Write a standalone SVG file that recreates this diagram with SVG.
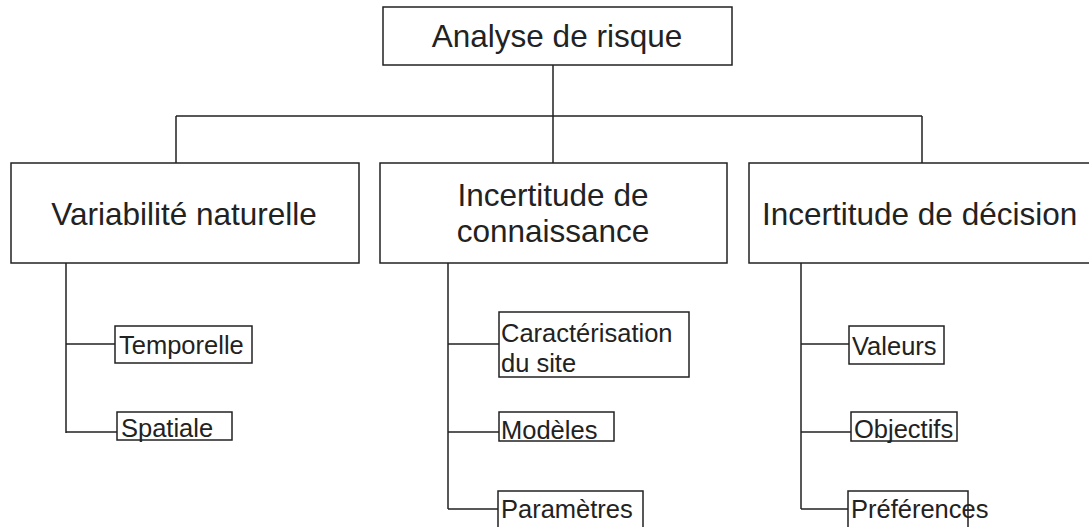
<svg xmlns="http://www.w3.org/2000/svg" width="1089" height="527" viewBox="0 0 1089 527">
<style>
.box{fill:#fff;stroke:#222;stroke-width:1.5}
.ln{fill:none;stroke:#222;stroke-width:1.5}
.big{font-family:"Liberation Sans",Arial,sans-serif;font-size:31.5px;fill:#222}
.sm{font-family:"Liberation Sans",Arial,sans-serif;font-size:25.5px;fill:#222}
</style>
<rect width="1089" height="527" fill="#fff"/>
<g id="connectors">
<path class="ln" d="M553 65V116M176 116H922M176 116V163M553 116V163M922 116V163"/>
<path class="ln" d="M66 263V433M66 344H115M66 432H117"/>
<path class="ln" d="M448 263V509M448 344H499M448 432H499M448 509H498"/>
<path class="ln" d="M801 263V509M801 344H849M801 432H851M801 509H848"/>
</g>
<g id="root"><rect class="box" x="383" y="7" width="349" height="58"/><text class="big" x="557" y="47" text-anchor="middle">Analyse de risque</text></g>
<g id="variabilite"><rect class="box" x="11" y="163" width="348" height="100"/><text class="big" x="184" y="225" text-anchor="middle">Variabilité naturelle</text></g>
<g id="connaissance"><rect class="box" x="380" y="163" width="347" height="100"/><text class="big" x="553" y="206" text-anchor="middle">Incertitude de</text><text class="big" x="553" y="241.5" text-anchor="middle">connaissance</text></g>
<g id="decision"><rect class="box" x="749" y="163" width="360" height="100"/><text class="big" x="762" y="225">Incertitude de décision</text></g>
<g id="temporelle"><rect class="box" x="115" y="326" width="137" height="37"/><text class="sm" x="119" y="354">Temporelle</text></g>
<g id="spatiale"><rect class="box" x="117" y="412" width="115" height="28"/><text class="sm" x="121" y="437">Spatiale</text></g>
<g id="caracterisation"><rect class="box" x="499" y="312" width="190" height="65"/><text class="sm" x="501" y="342">Caractérisation</text><text class="sm" x="501" y="372">du site</text></g>
<g id="modeles"><rect class="box" x="499" y="412" width="115" height="29"/><text class="sm" x="501" y="439">Modèles</text></g>
<g id="parametres"><rect class="box" x="498" y="491" width="145" height="45"/><text class="sm" x="501" y="518">Paramètres</text></g>
<g id="valeurs"><rect class="box" x="849" y="326" width="95" height="38"/><text class="sm" x="852" y="355">Valeurs</text></g>
<g id="objectifs"><rect class="box" x="851" y="412" width="106" height="29"/><text class="sm" x="854" y="438">Objectifs</text></g>
<g id="preferences"><rect class="box" x="848" y="491" width="120" height="45"/><text class="sm" x="851" y="518">Préférences</text></g>
</svg>
